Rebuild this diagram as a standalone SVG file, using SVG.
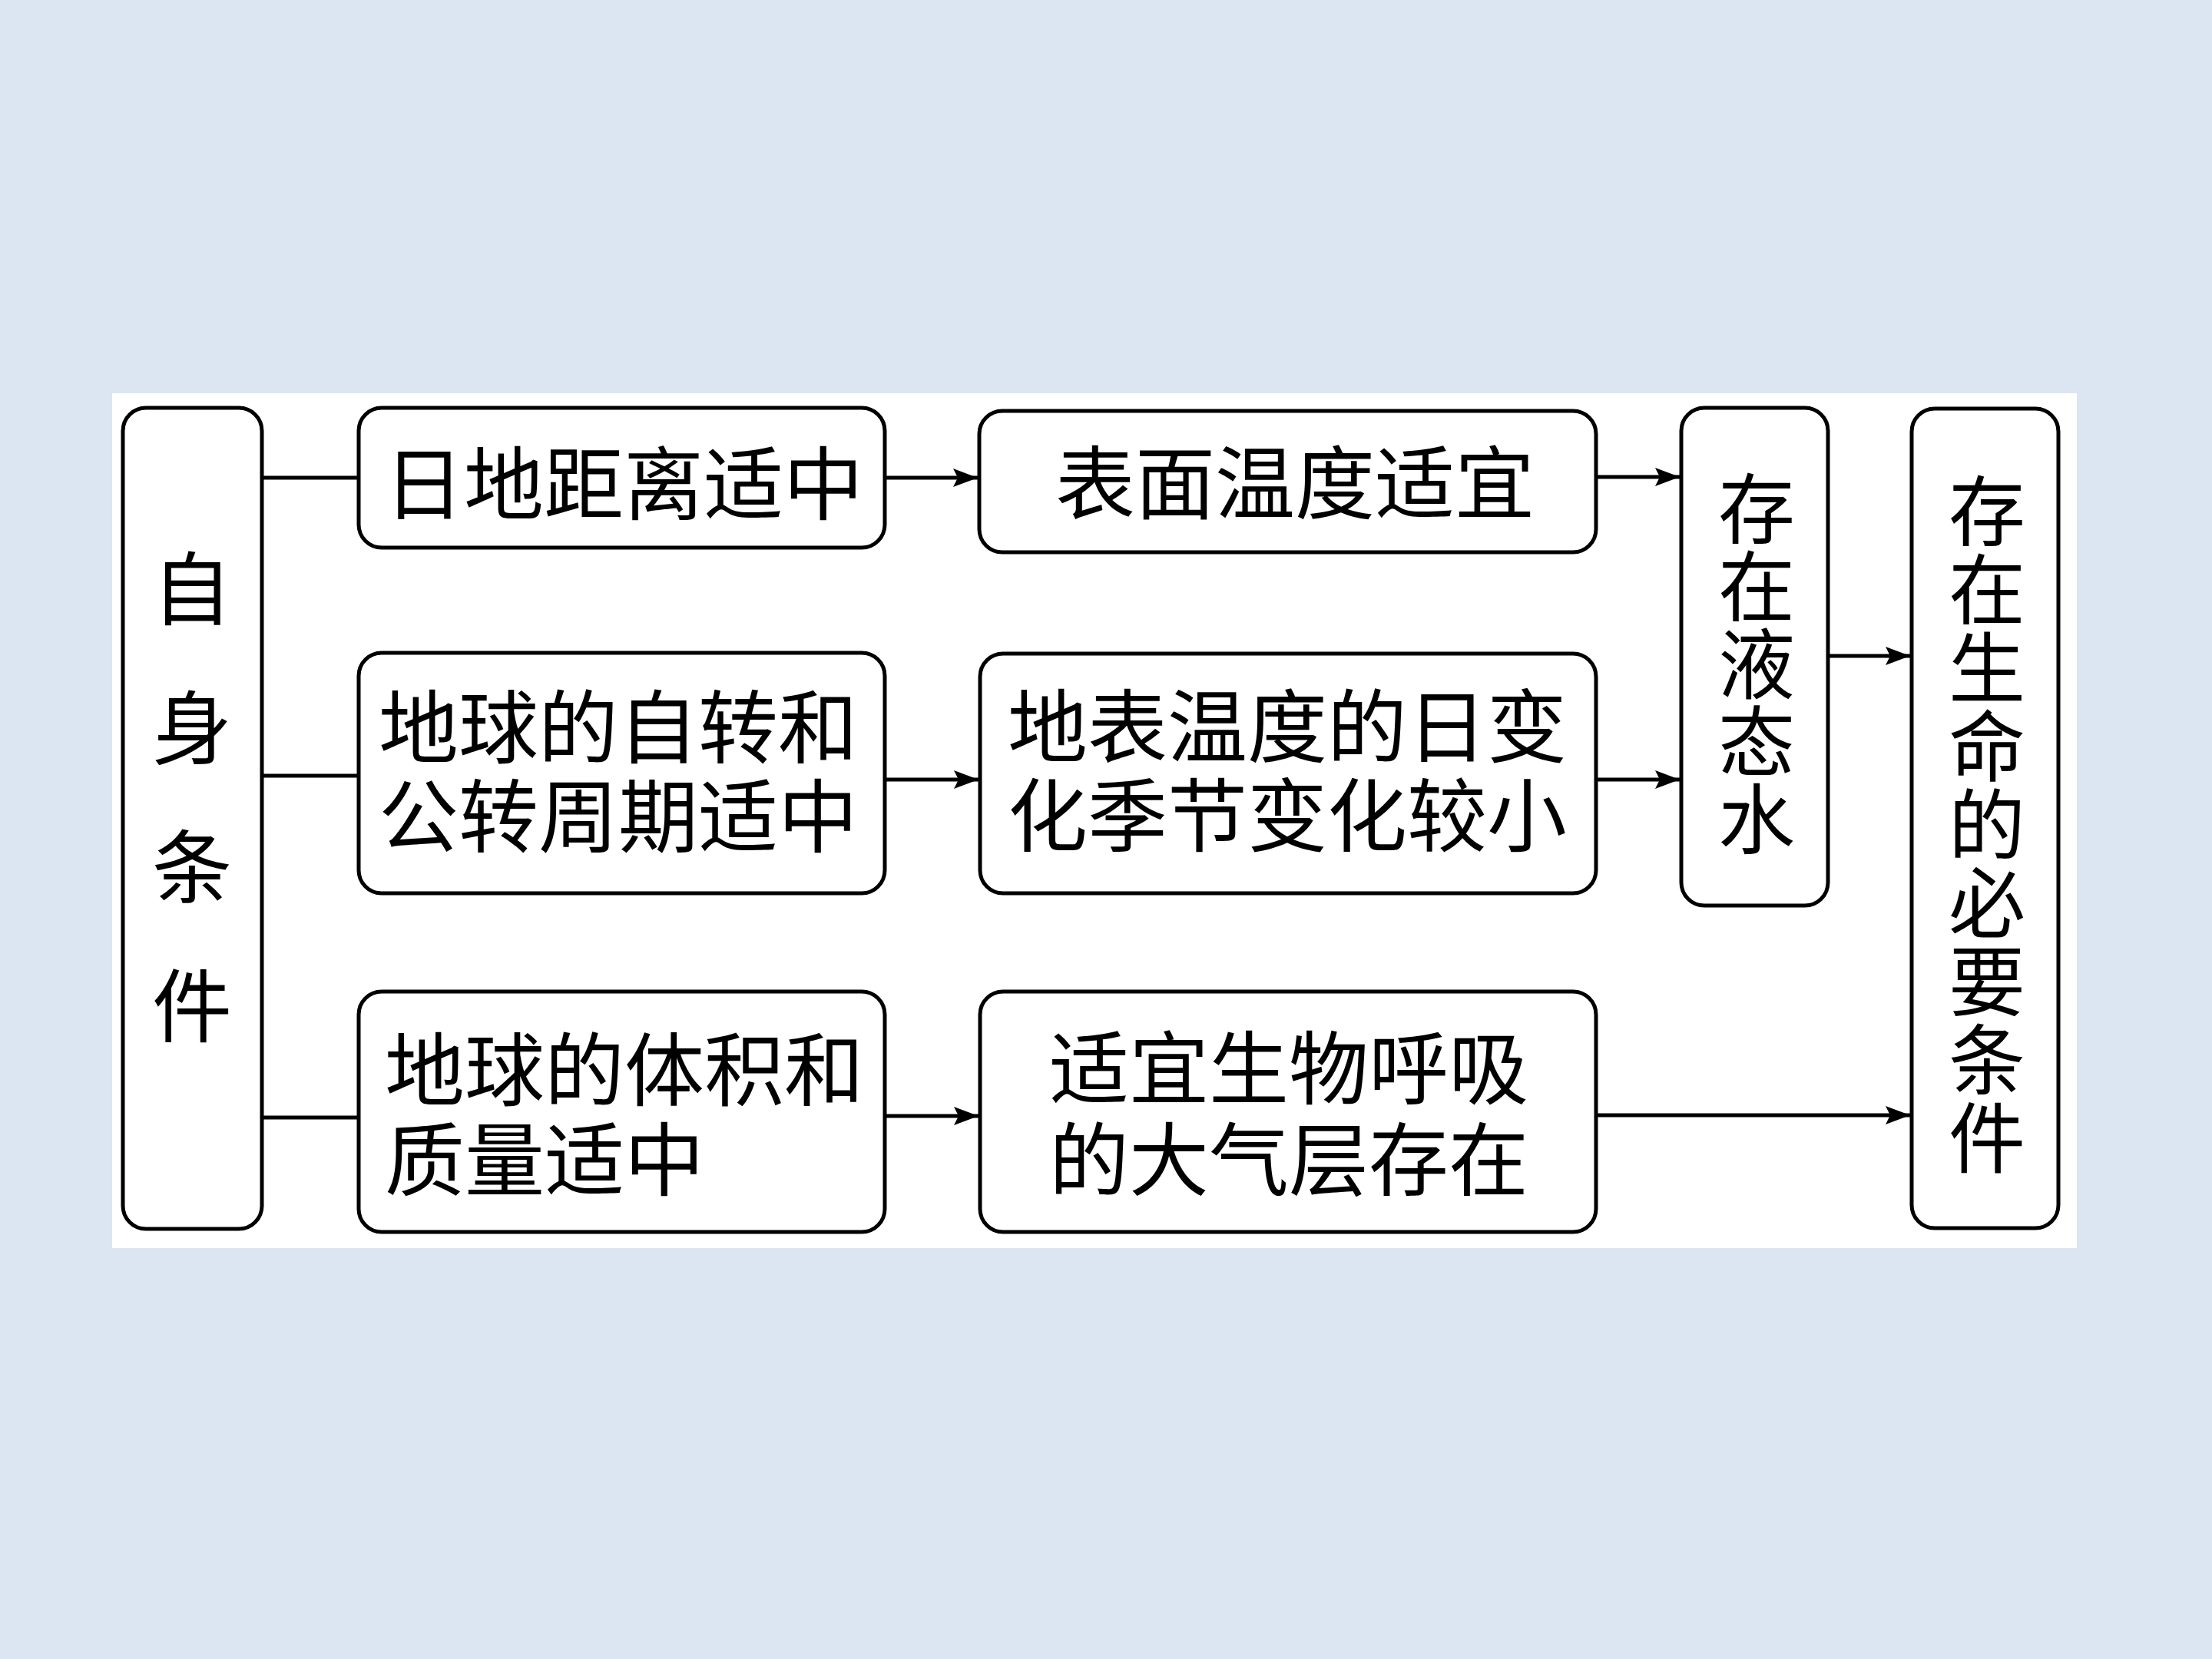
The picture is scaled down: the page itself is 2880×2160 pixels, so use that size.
<svg xmlns="http://www.w3.org/2000/svg" width="2880" height="2160" viewBox="0 0 2880 2160">
<style>
.box{fill:#ffffff;stroke:#000000;stroke-width:5}
.t{font-family:"Noto Sans CJK SC","Noto Sans CJK TC",sans-serif;font-size:104px;fill:#000000}
.v{font-size:100px;writing-mode:vertical-rl;text-orientation:upright}
.m{text-anchor:middle}
.c{stroke:#000000;stroke-width:5;fill:none}
.a{marker-end:url(#arr)}
</style>
<defs>
<marker id="arr" markerUnits="userSpaceOnUse" markerWidth="34" markerHeight="26" refX="32" refY="13" orient="auto">
<path d="M0,1 L32,13 L0,25 L6,13 Z" fill="#000000"/>
</marker>
</defs>
<rect x="0" y="0" width="2880" height="2160" fill="#dce6f2"/>
<rect x="146" y="512" width="2558" height="1113" fill="#ffffff"/>
<g id="connectors">
<line class="c" x1="342" y1="622" x2="467" y2="622"/>
<line class="c" x1="342" y1="1010" x2="467" y2="1010"/>
<line class="c" x1="342" y1="1455" x2="467" y2="1455"/>
<line class="c a" x1="1152" y1="622" x2="1273" y2="622"/>
<line class="c a" x1="1152" y1="1015" x2="1274" y2="1015"/>
<line class="c a" x1="1152" y1="1453" x2="1274" y2="1453"/>
<line class="c a" x1="2078" y1="621" x2="2187" y2="621"/>
<line class="c a" x1="2078" y1="1015" x2="2187" y2="1015"/>
<line class="c a" x1="2380" y1="854" x2="2487" y2="854"/>
<line class="c a" x1="2078" y1="1452" x2="2487" y2="1452"/>
</g>
<g id="self">
<rect class="box" x="160" y="531" width="181" height="1069" rx="30"/>
<text class="t m"><tspan x="250" y="806">自</tspan><tspan x="250" y="987">身</tspan><tspan x="250" y="1168">条</tspan><tspan x="250" y="1349">件</tspan></text>
</g>
<g id="a1">
<rect class="box" x="467" y="531" width="685" height="182" rx="30"/>
<text class="t m" x="812" y="669">日地距离适中</text>
</g>
<g id="b1">
<rect class="box" x="467" y="850" width="685" height="313" rx="30"/>
<text class="t m"><tspan x="805" y="986">地球的自转和</tspan><tspan x="805" y="1102">公转周期适中</tspan></text>
</g>
<g id="c1">
<rect class="box" x="467" y="1291" width="685" height="313" rx="30"/>
<text class="t"><tspan x="501" y="1432">地球的体积和</tspan><tspan x="501" y="1549">质量适中</tspan></text>
</g>
<g id="a2">
<rect class="box" x="1275" y="535" width="803" height="184" rx="30"/>
<text class="t m" x="1686" y="668">表面温度适宜</text>
</g>
<g id="b2">
<rect class="box" x="1276" y="851" width="802" height="312" rx="30"/>
<text class="t m"><tspan x="1676" y="985">地表温度的日变</tspan><tspan x="1676" y="1101">化季节变化较小</tspan></text>
</g>
<g id="c2">
<rect class="box" x="1276" y="1291" width="802" height="313" rx="30"/>
<text class="t m"><tspan x="1678" y="1430">适宜生物呼吸</tspan><tspan x="1678" y="1549">的大气层存在</tspan></text>
</g>
<g id="water">
<rect class="box" x="2189" y="531" width="191" height="648" rx="30"/>
<text class="t v" x="2287" y="612" letter-spacing="1">存在液态水</text>
</g>
<g id="life">
<rect class="box" x="2489" y="532" width="191" height="1067" rx="30"/>
<text class="t v" x="2587" y="615" letter-spacing="2">存在生命的必要条件</text>
</g>
</svg>
